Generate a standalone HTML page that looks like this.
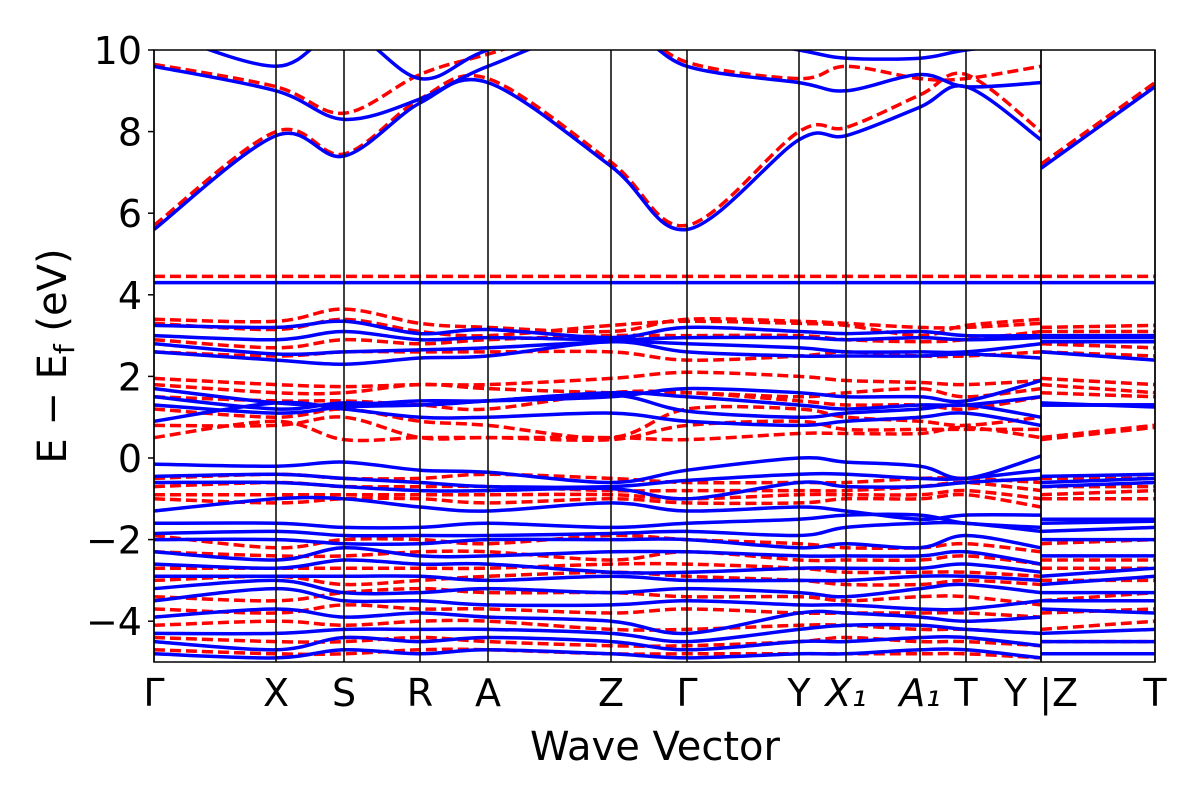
<!DOCTYPE html>
<html><head><meta charset="utf-8"><style>
html,body{margin:0;padding:0;background:#fff;}
svg text{font-family:"DejaVu Sans","Liberation Sans",sans-serif;fill:#000;}
</style></head><body>
<svg id="chart" width="1200" height="800">
<defs><clipPath id="clip"><rect x="154" y="50" width="1001" height="612"/></clipPath></defs>
<g id="bands" clip-path="url(#clip)"></g>
<g id="axes"></g>
<text x="655" y="760" font-size="40" text-anchor="middle">Wave Vector</text>
<text transform="translate(66,356) rotate(-90)" font-size="40" text-anchor="middle">E − E<tspan font-size="28" dy="8">f</tspan><tspan dy="-8"> (eV)</tspan></text>
</svg>
<script>
const kPositions=[0,1.22,1.9,2.66,3.34,4.57,5.33,6.45,6.92,7.66,8.12,8.87,8.87,10.01];
const kLabels=["Γ","X","S","R","A","Z","Γ","Y","X₁","A₁","T","","","T"];
const yTicks=[-4,-2,0,2,4,6,8,10];
const blueBands=[
[5.6,7.9,7.4,8.7,9.2,7.15,5.6,7.8,7.9,8.6,9.1,7.8,7.1,9.1],
[9.6,9.0,8.3,8.8,9.6,10.6,9.6,9.2,9.0,9.4,9.1,9.2,10.5,10.5],
[10.5,9.6,10.5,9.3,10.0,10.8,10.5,10.0,9.8,9.8,10.0,10.2,11,11],
[4.3,4.3,4.3,4.3,4.3,4.3,4.3,4.3,4.3,4.3,4.3,4.3,4.3,4.3],
[3.25,3.2,3.35,3.05,3.15,2.95,3.2,3.1,3.05,3.1,3.0,3.0,3.0,3.0],
[3.0,2.9,3.1,2.9,2.95,2.9,2.95,2.95,2.9,2.95,2.9,2.95,2.95,2.95],
[2.8,2.55,2.6,2.65,2.7,2.85,2.8,2.7,2.6,2.6,2.6,2.8,2.85,2.85],
[2.6,2.4,2.3,2.45,2.5,2.85,2.6,2.5,2.5,2.5,2.55,2.45,2.6,2.4],
[1.7,1.35,1.3,1.4,1.4,1.5,1.7,1.6,1.5,1.5,1.4,1.9,1.3,1.3],
[1.5,1.2,1.35,1.3,1.4,1.6,1.5,1.3,1.2,1.3,1.3,1.5,1.35,1.25],
[1.3,1.1,1.25,1.3,1.4,1.55,1.15,1.0,1.1,1.2,1.3,1.0,1.3,1.3],
[0.9,1.35,1.2,1.0,1.0,1.1,0.9,0.8,0.9,1.0,1.1,0.8,1.3,1.3],
[-0.15,-0.2,-0.1,-0.3,-0.35,-0.6,-0.3,0.0,-0.1,-0.2,-0.5,0.05,-0.45,-0.4],
[-0.45,-0.4,-0.5,-0.6,-0.7,-0.7,-0.55,-0.4,-0.4,-0.5,-0.5,-0.3,-0.6,-0.5],
[-0.6,-0.6,-0.7,-0.8,-0.8,-0.75,-1.0,-0.6,-0.7,-0.7,-0.6,-0.5,-0.7,-0.6],
[-1.3,-1.0,-1.0,-1.2,-1.3,-1.1,-1.3,-1.2,-1.3,-1.5,-1.4,-1.4,-1.5,-1.5],
[-1.6,-1.6,-1.7,-1.7,-1.6,-1.7,-1.6,-1.5,-1.4,-1.4,-1.6,-1.7,-1.6,-1.55],
[-1.85,-1.8,-1.9,-1.9,-1.9,-1.85,-1.8,-1.9,-1.7,-1.6,-1.6,-1.8,-1.8,-1.7],
[-2.0,-2.0,-2.1,-2.1,-2.0,-2.0,-2.0,-2.2,-2.1,-2.2,-1.9,-2.2,-2.0,-2.0],
[-2.3,-2.5,-2.2,-2.4,-2.4,-2.3,-2.3,-2.4,-2.4,-2.4,-2.3,-2.6,-2.4,-2.4],
[-2.6,-2.7,-2.5,-2.6,-2.6,-2.8,-2.8,-2.7,-2.7,-2.7,-2.6,-2.8,-2.9,-2.7],
[-2.9,-2.9,-2.9,-2.9,-3.0,-2.9,-3.0,-3.0,-3.0,-2.9,-2.9,-3.0,-3.1,-2.9],
[-3.2,-3.0,-3.3,-3.3,-3.2,-3.3,-3.2,-3.3,-3.4,-3.2,-3.1,-3.3,-3.3,-3.3],
[-3.5,-3.2,-3.5,-3.5,-3.6,-3.6,-3.5,-3.6,-3.6,-3.7,-3.7,-3.5,-3.5,-3.5],
[-3.9,-3.7,-3.9,-3.8,-3.9,-4.0,-4.3,-3.8,-3.8,-3.9,-4.0,-3.9,-3.7,-3.8],
[-4.3,-4.3,-4.2,-4.2,-4.2,-4.3,-4.5,-4.2,-4.1,-4.1,-4.2,-4.3,-4.3,-4.2],
[-4.5,-4.7,-4.4,-4.5,-4.4,-4.5,-4.7,-4.5,-4.5,-4.4,-4.4,-4.6,-4.5,-4.5],
[-4.8,-4.9,-4.7,-4.8,-4.7,-4.8,-4.9,-4.8,-4.8,-4.7,-4.7,-4.9,-4.8,-4.8]
];
const redBands=[
[5.7,8.0,7.45,8.8,9.3,7.25,5.7,8.0,8.1,8.9,9.4,8.0,7.2,9.2],
[9.65,9.1,8.45,9.4,9.9,10.7,9.7,9.3,9.6,9.3,9.3,9.6,10.6,10.6],
[4.45,4.45,4.45,4.45,4.45,4.45,4.45,4.45,4.45,4.45,4.45,4.45,4.45,4.45],
[3.4,3.35,3.65,3.3,3.2,3.1,3.4,3.35,3.3,3.2,3.2,3.3,3.2,3.25],
[3.3,3.15,3.4,3.1,3.0,3.25,3.35,3.3,3.25,3.0,3.25,3.4,3.1,3.1],
[2.9,2.7,2.9,2.8,2.9,3.0,3.0,3.0,2.9,2.85,2.9,3.1,2.8,2.7],
[2.6,2.5,2.6,2.6,2.6,2.6,2.4,2.5,2.6,2.5,2.5,2.6,2.6,2.5],
[1.95,1.8,1.75,1.8,1.8,1.95,2.1,2.0,1.9,1.85,1.8,1.9,1.95,1.8],
[1.8,1.6,1.6,1.8,1.7,1.6,1.6,1.5,1.6,1.7,1.5,1.7,1.8,1.6],
[1.5,1.4,1.4,1.3,1.2,1.6,1.6,1.4,1.3,1.3,1.2,1.5,1.6,1.5],
[1.2,1.0,1.2,0.9,0.8,0.5,1.2,1.2,1.0,0.9,0.8,1.0,0.5,0.8],
[0.8,0.8,1.0,0.5,0.5,0.45,0.8,0.9,0.7,0.7,0.7,0.7,0.5,0.8],
[0.5,0.9,0.45,0.5,0.5,0.5,0.45,0.6,0.6,0.6,0.75,0.5,0.45,0.75],
[-0.5,-0.4,-0.5,-0.5,-0.4,-0.5,-0.6,-0.6,-0.6,-0.5,-0.5,-0.6,-0.5,-0.5],
[-0.7,-0.6,-0.7,-0.7,-0.7,-0.8,-0.8,-0.8,-0.8,-0.7,-0.6,-0.8,-0.7,-0.7],
[-0.9,-0.9,-0.9,-0.9,-0.9,-0.9,-1.0,-0.9,-0.9,-0.9,-0.8,-1.0,-0.9,-0.8],
[-1.0,-1.1,-1.0,-1.0,-1.1,-1.0,-1.1,-1.1,-1.0,-1.0,-0.9,-1.2,-1.0,-1.0],
[-1.9,-2.2,-2.0,-2.0,-2.1,-1.9,-2.0,-2.1,-2.2,-2.2,-2.1,-2.3,-2.1,-2.0],
[-2.3,-2.4,-2.4,-2.3,-2.3,-2.5,-2.3,-2.5,-2.5,-2.5,-2.4,-2.6,-2.5,-2.5],
[-2.7,-2.7,-2.7,-2.7,-2.7,-2.6,-2.6,-2.7,-2.8,-2.8,-2.8,-2.9,-2.7,-2.7],
[-3.0,-2.9,-3.1,-3.0,-2.9,-2.8,-2.9,-3.0,-3.1,-3.1,-3.0,-3.1,-3.0,-3.0],
[-3.4,-3.5,-3.3,-3.2,-3.3,-3.3,-3.4,-3.4,-3.5,-3.4,-3.4,-3.6,-3.5,-3.3],
[-3.7,-3.8,-3.6,-3.7,-3.7,-3.8,-3.7,-3.8,-3.8,-3.8,-3.8,-3.9,-3.8,-3.7],
[-4.1,-4.0,-4.1,-4.0,-4.0,-4.2,-4.2,-4.1,-4.1,-4.2,-4.2,-4.3,-4.2,-4.0],
[-4.4,-4.5,-4.5,-4.4,-4.5,-4.6,-4.6,-4.5,-4.4,-4.5,-4.5,-4.6,-4.5,-4.5],
[-4.7,-4.8,-4.8,-4.7,-4.7,-4.8,-4.8,-4.8,-4.8,-4.8,-4.8,-4.9,-4.8,-4.8]
];
const X0=154,X1=1155,Y0=50,Y1=662,kMax=kPositions[kPositions.length-1],eMin=-5,eMax=10;
const xs=k=>X0+(k/kMax)*(X1-X0);
const ys=e=>Y1-(e-eMin)/(eMax-eMin)*(Y1-Y0);
const NS="http://www.w3.org/2000/svg";
function smoothPath(pts){
  let d="M"+pts[0][0].toFixed(1)+","+pts[0][1].toFixed(1);
  for(let i=0;i<pts.length-1;i++){
    const p0=pts[Math.max(i-1,0)],p1=pts[i],p2=pts[i+1],p3=pts[Math.min(i+2,pts.length-1)];
    const c1=[p1[0]+(p2[0]-p0[0])/6,p1[1]+(p2[1]-p0[1])/6];
    const c2=[p2[0]-(p3[0]-p1[0])/6,p2[1]-(p3[1]-p1[1])/6];
    c1[0]=Math.min(Math.max(c1[0],p1[0]),p2[0]);c2[0]=Math.min(Math.max(c2[0],p1[0]),p2[0]);
    d+="C"+c1.map(v=>v.toFixed(1)).join(",")+" "+c2.map(v=>v.toFixed(1)).join(",")+" "+p2.map(v=>v.toFixed(1)).join(",");
  }
  return d;
}
const g=document.getElementById("bands");
function drawSet(set,color,dash,name){
  set.forEach((band,bi)=>{
    [[0,11],[12,13]].forEach(([a,b])=>{
      const pts=[];for(let i=a;i<=b;i++)pts.push([xs(kPositions[i]),ys(band[i])]);
      const p=document.createElementNS(NS,"path");
      p.setAttribute("d",smoothPath(pts));p.setAttribute("fill","none");
      p.setAttribute("stroke",color);p.setAttribute("stroke-width","3.5");
      if(dash)p.setAttribute("stroke-dasharray",dash);
      
      
      g.appendChild(p);
    });
  });
}
drawSet(redBands,"#ff0000","11,5","red-band");
drawSet(blueBands,"#0000ff",null,"blue-band");
const ax=document.getElementById("axes");
function addText(x,y,str,anchor,italic){
  const t=document.createElementNS(NS,"text");
  t.setAttribute("x",x);t.setAttribute("y",y);t.setAttribute("font-size","38");t.setAttribute("text-anchor",anchor);
  if(italic)t.setAttribute("font-style","italic");
  t.textContent=str;
  
  
  ax.appendChild(t);
}
kPositions.forEach((k,i)=>{
  const l=document.createElementNS(NS,"line");
  l.setAttribute("x1",xs(k));l.setAttribute("x2",xs(k));l.setAttribute("y1",Y0);l.setAttribute("y2",Y1);
  l.setAttribute("stroke","#000");l.setAttribute("stroke-width","1.5");
  
  
  ax.appendChild(l);
  if(kLabels[i]) addText(xs(k),706,kLabels[i],"middle",kLabels[i].includes("₁"));
});
addText(xs(kPositions[11]),706,"Y |Z","middle",false);
const fr=document.createElementNS(NS,"rect");
fr.setAttribute("x",X0);fr.setAttribute("y",Y0);fr.setAttribute("width",X1-X0);fr.setAttribute("height",Y1-Y0);
fr.setAttribute("fill","none");fr.setAttribute("stroke","#000");fr.setAttribute("stroke-width","1.5");


ax.appendChild(fr);
yTicks.forEach(v=>{
  const l=document.createElementNS(NS,"line");
  l.setAttribute("x1",X0-6);l.setAttribute("x2",X0);l.setAttribute("y1",ys(v));l.setAttribute("y2",ys(v));
  l.setAttribute("stroke","#000");l.setAttribute("stroke-width","1.5");
  
  
  ax.appendChild(l);
  addText(X0-12,ys(v)+14,v<0?"−"+Math.abs(v):String(v),"end",false);
});
</script>
</body></html>
